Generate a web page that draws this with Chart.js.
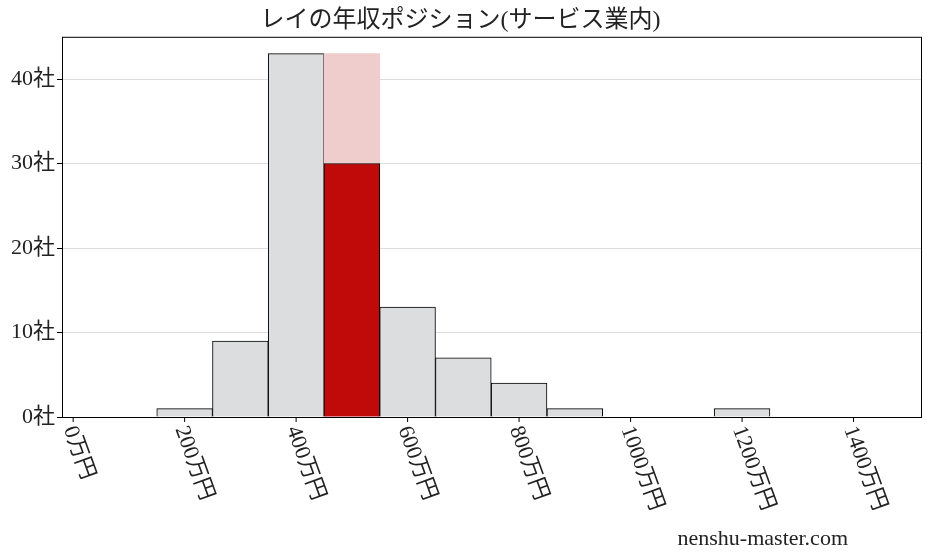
<!DOCTYPE html>
<html><head><meta charset="utf-8">
<script src="https://cdn.jsdelivr.net/npm/chart.js@4/dist/chart.umd.min.js"></script>
<style>body{margin:0;background:#fff}</style></head>
<body><canvas id="c" width="927" height="557"></canvas>
<script>
const binCenters = [200,300,400,600,700,800,900,1000,1100,1200];
const binCounts  = [1,9,43,13,7,4,1,0,0,1];
const ownBin = 500;
const ownCount = 30;
const ownBinTotal = 43;
const xTicks = [0,200,400,600,800,1000,1200,1400];
const yTicks = [0,10,20,30,40];
const FONT = "'Liberation Serif','Noto Sans CJK JP',serif";

const frame = {
  id:'frame',
  afterDatasetsDraw(ch){
    const {ctx,chartArea:a}=ch;
    ctx.save();ctx.strokeStyle='#000';ctx.lineWidth=1;
    ctx.strokeRect(a.left+0.5,a.top+0.5,a.right-a.left,a.bottom-a.top);
    const xs=ch.scales.x;
    ctx.font="22px "+FONT;ctx.fillStyle='#222';
    xTicks.forEach(v=>{
      const px=xs.getPixelForValue(v);
      ctx.beginPath();ctx.moveTo(px,a.bottom);ctx.lineTo(px,a.bottom+5);ctx.stroke();
      ctx.save();ctx.translate(px-4,a.bottom+10);ctx.rotate(70*Math.PI/180);
      ctx.textAlign='left';ctx.textBaseline='middle';
      ctx.fillText(v+'万円',0,0);ctx.restore();
    });
    ctx.font="22px "+FONT;ctx.textAlign='right';ctx.textBaseline='alphabetic';
    ctx.fillText('nenshu-master.com',848,545);
    ctx.restore();
  }
};

new Chart(document.getElementById('c'),{
  type:'bar',
  data:{datasets:[
    {data:[{x:ownBin,y:ownCount}],backgroundColor:'#c00a0a',borderColor:'#000',borderWidth:1,order:1},
    {data:[{x:ownBin,y:ownBinTotal}],backgroundColor:'#f0cdcd',borderWidth:0,order:2},
    {data:binCenters.map((x,i)=>({x,y:binCounts[i]})),backgroundColor:'#dcdddf',borderColor:'#000',borderWidth:1,order:3}
  ]},
  options:{
    responsive:false,animation:false,
    layout:{padding:{left:0,right:6,top:4,bottom:0}},
    datasets:{bar:{barPercentage:1,categoryPercentage:1,grouped:false}},
    plugins:{legend:{display:false},tooltip:{enabled:false},
      title:{display:true,text:'レイの年収ポジション(サービス業内)',color:'#222',font:{family:FONT,size:24,weight:'normal'},padding:{top:2,bottom:2}}},
    scales:{
      x:{type:'linear',offset:false,min:-20,max:1521,grid:{display:false},
        ticks:{display:false},afterFit(s){s.height=140;}},
      y:{min:0,max:45,afterBuildTicks(s){s.ticks=yTicks.map(v=>({value:v}));},
        grid:{color:'#dddddd',tickLength:5,tickColor:'#000'},
        ticks:{color:'#222',font:{family:FONT,size:22},padding:2,callback:v=>v+'社'},
        afterFit(s){s.width=62;}}
    }
  },
  plugins:[frame]
});
</script></body></html>
